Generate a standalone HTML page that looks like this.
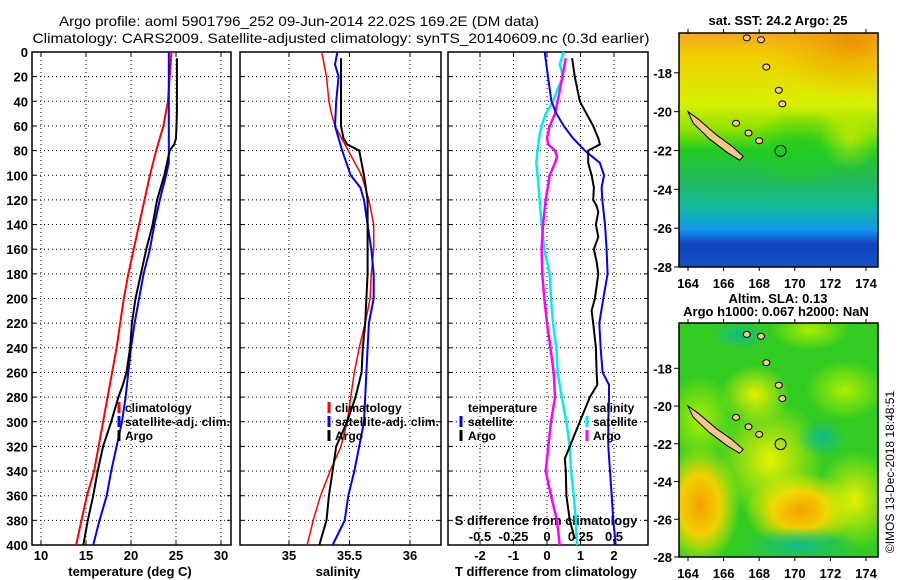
<!DOCTYPE html>
<html><head><meta charset="utf-8"><style>
html,body{margin:0;padding:0;background:#fff;}
svg{display:block;font-family:"Liberation Sans",sans-serif;}
.t{font-weight:bold;font-size:13px;}
.lg{font-weight:bold;font-size:12px;}
</style></head><body>
<svg id="chart" width="900" height="580" viewBox="0 0 900 580" xmlns="http://www.w3.org/2000/svg">
<defs>
<linearGradient id="sstGrad" x1="0" y1="0" x2="0" y2="1">
<stop offset="0" stop-color="#f5a623"/><stop offset="0.1" stop-color="#f0d000"/><stop offset="0.3" stop-color="#d8f000"/><stop offset="0.42" stop-color="#88e000"/><stop offset="0.5" stop-color="#22cc22"/><stop offset="0.62" stop-color="#22bb55"/><stop offset="0.74" stop-color="#11bb99"/><stop offset="0.84" stop-color="#1199ee"/><stop offset="0.9" stop-color="#1144bb"/><stop offset="1" stop-color="#1150c8"/>
</linearGradient>
<radialGradient id="orgSide"><stop offset="0" stop-color="#e88a00" stop-opacity="0.8"/><stop offset="1" stop-color="#f0b000" stop-opacity="0"/></radialGradient>
<radialGradient id="yel"><stop offset="0" stop-color="#e8f000"/><stop offset="1" stop-color="#e8f000" stop-opacity="0"/></radialGradient>
<radialGradient id="lyel"><stop offset="0" stop-color="#aaee00"/><stop offset="1" stop-color="#aaee00" stop-opacity="0"/></radialGradient>
<radialGradient id="org"><stop offset="0" stop-color="#f5a000"/><stop offset="0.5" stop-color="#f0d000"/><stop offset="1" stop-color="#e8f000" stop-opacity="0"/></radialGradient>
<radialGradient id="tea"><stop offset="0" stop-color="#11bb88"/><stop offset="1" stop-color="#11bb88" stop-opacity="0"/></radialGradient>
<radialGradient id="grn"><stop offset="0" stop-color="#22cc22"/><stop offset="1" stop-color="#22cc22" stop-opacity="0"/></radialGradient>
<clipPath id="m1"><rect x="679" y="33" width="199" height="234"/></clipPath>
<clipPath id="m2"><rect x="679" y="323" width="199" height="234"/></clipPath>
</defs>
<text x="299" y="26" font-size="14" text-anchor="middle" textLength="480" lengthAdjust="spacingAndGlyphs">Argo profile: aoml 5901796_252 09-Jun-2014 22.02S 169.2E (DM data)</text>
<text x="341" y="43" font-size="14" text-anchor="middle" textLength="617" lengthAdjust="spacingAndGlyphs">Climatology: CARS2009. Satellite-adjusted climatology: synTS_20140609.nc (0.3d earlier)</text>
<g id="plots"></g>
<g id="maps">
<g clip-path="url(#m1)">
<rect x="679" y="33" width="199" height="234" fill="url(#sstGrad)"/>
<ellipse cx="850" cy="40" rx="90" ry="60" fill="url(#orgSide)"/>
<ellipse cx="800" cy="150" rx="55" ry="40" fill="url(#grn)"/>
<ellipse cx="850" cy="140" rx="30" ry="30" fill="url(#yel)" opacity="0.6"/>
</g>
<g clip-path="url(#m2)">
<rect x="679" y="323" width="199" height="234" fill="#33cc22"/>
<ellipse cx="700" cy="505" rx="40" ry="60" fill="url(#org)"/>
<ellipse cx="800" cy="510" rx="55" ry="38" fill="url(#org)"/>
<ellipse cx="770" cy="460" rx="55" ry="60" fill="url(#yel)"/>
<ellipse cx="855" cy="500" rx="40" ry="50" fill="url(#yel)"/>
<ellipse cx="845" cy="390" rx="40" ry="30" fill="url(#lyel)"/>
<ellipse cx="755" cy="395" rx="35" ry="30" fill="url(#yel)"/>
<ellipse cx="700" cy="420" rx="35" ry="45" fill="url(#lyel)"/>
<ellipse cx="810" cy="330" rx="40" ry="20" fill="url(#lyel)"/>
<ellipse cx="800" cy="545" rx="60" ry="18" fill="url(#tea)"/>
<ellipse cx="822" cy="438" rx="25" ry="20" fill="url(#tea)"/>
<ellipse cx="740" cy="335" rx="30" ry="14" fill="url(#tea)"/>
</g>
</g>
<g id="mapaxes"></g>
<text x="778" y="25" class="t" font-size="12" text-anchor="middle">sat. SST: 24.2 Argo: 25</text>
<text x="778" y="303" class="t" font-size="12" text-anchor="middle">Altim. SLA: 0.13</text>
<text x="776" y="316" class="t" font-size="12" text-anchor="middle">Argo h1000: 0.067 h2000: NaN</text>
<text transform="translate(894,472) rotate(-90)" font-size="12" text-anchor="middle">©IMOS 13-Dec-2018 18:48:51</text>
</svg>
<script>
// ---- data ----
const tempClimDepth=[0,40,60,80,100,120,140,160,180,200,220,240,260,280,300,320,340,360,380,400];
const tempClim=[24.5,24.1,23.6,22.8,22.1,21.5,20.9,20.3,19.7,19.2,18.8,18.4,17.9,17.4,16.9,16.4,15.9,15.1,14.5,13.9];
const tempSatDepth=[0,80,90,100,120,140,160,180,200,220,240,260,280,300,320,340,360,380,400];
const tempSat=[24.2,24.2,24.2,23.9,23.2,22.6,22.1,21.4,20.9,20.4,20.0,19.7,19.4,19.0,18.4,17.8,17.3,16.5,15.8];
const tempArgoDepth=[5,50,70,75,80,100,120,140,160,180,200,220,240,260,270,280,300,320,340,360,380,400];
const tempArgo=[25.1,25.1,25.0,24.8,24.3,23.7,22.9,22.4,21.7,21.1,20.5,20.1,19.9,19.5,19.1,18.6,17.8,16.9,16.3,15.8,15.2,14.7];
const salClimDepth=[0,20,40,50,60,80,100,120,140,160,180,200,220,240,260,280,300,320,340,360,380,400];
const salClim=[35.27,35.31,35.33,35.35,35.38,35.49,35.60,35.66,35.70,35.70,35.68,35.67,35.63,35.58,35.54,35.51,35.48,35.43,35.34,35.26,35.20,35.15];
const salSatDepth=[0,10,20,40,60,70,80,100,110,120,140,160,180,200,220,240,260,280,300,320,340,360,380,400];
const salSat=[35.40,35.38,35.41,35.39,35.38,35.41,35.44,35.51,35.59,35.62,35.65,35.68,35.70,35.70,35.66,35.65,35.64,35.63,35.62,35.58,35.54,35.49,35.46,35.36];
const salArgoDepth=[5,60,70,75,80,90,100,120,140,160,180,200,220,240,260,280,300,320,340,360,380,400];
const salArgo=[35.43,35.43,35.45,35.48,35.58,35.60,35.62,35.65,35.65,35.65,35.65,35.64,35.63,35.61,35.60,35.55,35.48,35.39,35.36,35.33,35.31,35.25];
const dTSatDepth=[0,20,40,50,60,70,80,90,100,110,120,140,160,180,200,220,240,260,270,280,300,320,340,360,380,400];
const dTSat=[-0.07,0.03,0.13,0.28,0.5,0.78,1.13,1.58,1.7,1.63,1.65,1.73,1.78,1.81,1.68,1.56,1.6,1.66,1.85,1.85,1.83,1.83,1.88,1.93,1.98,2.05];
const dTArgoDepth=[5,20,40,60,70,75,80,90,100,110,120,125,130,140,150,160,170,180,200,210,220,240,260,270,280,300,320,330,340,360,380,395];
const dTArgo=[0.75,0.83,0.98,1.38,1.53,1.58,1.23,1.23,1.33,1.4,1.38,1.48,1.53,1.46,1.53,1.4,1.48,1.53,1.43,1.33,1.38,1.46,1.48,1.5,1.28,0.98,0.68,0.53,0.56,0.58,0.68,0.83];
const dSSatDepth=[0,10,20,30,40,50,60,70,80,90,100,120,140,160,180,200,220,240,260,280,300,320,340,360,380,400];
const dSSat=[0.125,0.095,0.12,0.08,0.045,-0.01,-0.04,-0.06,-0.07,-0.08,-0.07,-0.055,-0.04,-0.02,0.02,0.03,0.045,0.07,0.08,0.11,0.145,0.17,0.18,0.2,0.215,0.225];
const dSArgoDepth=[5,20,40,50,60,70,75,80,85,90,100,120,140,160,180,200,220,240,260,280,300,320,340,360,380,400];
const dSArgo=[0.14,0.115,0.08,0.06,0.02,0,0.01,0.06,0.075,0.06,0.02,-0.01,-0.03,-0.04,-0.035,-0.02,0,0.025,0.05,0.06,0.03,0.01,-0.01,0.03,0.075,0.095];
const depthTicks=[0,20,40,60,80,100,120,140,160,180,200,220,240,260,280,300,320,340,360,380,400];
const tempTicks=[10,15,20,25,30];
const salTicks=[35,35.5,36];
const salTickLabels=["35","35.5","36"];
const dTTicks=[-2,-1,0,1,2];
const dSTicks=[-0.5,-0.25,0,0.25,0.5];
const dSTickLabels=["-0.5","-0.25","0","0.25","0.5"];
const latTicks=[-18,-20,-22,-24,-26,-28];
const lonTicks=[164,166,168,170,172,174];

const NS="http://www.w3.org/2000/svg";
const root=document.getElementById('plots');
function mk(tag,attrs,parent){const e=document.createElementNS(NS,tag);for(const k in attrs)e.setAttribute(k,attrs[k]);(parent||root).appendChild(e);return e;}
const Y0=52,Y1=545;
function yD(d){return Y0+(Y1-Y0)*d/400;}
function lin(d0,d1,p0,p1){return v=>p0+(v-d0)*(p1-p0)/(d1-d0);}
const xT=lin(10,30,41,221);
const xS=lin(35,36,289,410);
const xDT=lin(0,2,547,614);
const xDS=v=>xDT(v*4);

function panel(name,x0,x1,xs,ticks,labels){
  const g=mk('g',{});
  
  
  depthTicks.forEach(d=>{if(d>0&&d<400){const l=mk('line',{x1:x0,x2:x1,y1:yD(d),y2:yD(d),stroke:'#000','stroke-width':1,'stroke-dasharray':'1,3'},g);
    
    mk('line',{x1:x0,x2:x0+4,y1:yD(d),y2:yD(d),stroke:'#000'},g);mk('line',{x1:x1-4,x2:x1,y1:yD(d),y2:yD(d),stroke:'#000'},g);}});
  ticks.forEach((t,i)=>{const x=xs(t);
    const l=mk('line',{x1:x,x2:x,y1:Y0,y2:Y1,stroke:'#000','stroke-width':1,'stroke-dasharray':'1,3'},g);
    
    mk('line',{x1:x,x2:x,y1:Y1-4,y2:Y1,stroke:'#000'},g);mk('line',{x1:x,x2:x,y1:Y0,y2:Y0+4,stroke:'#000'},g);
    if(labels){const tx=mk('text',{x:x,y:560,'text-anchor':'middle',class:'t'},g);tx.textContent=labels[i];
      }
  });
  const r=mk('rect',{x:x0,y:Y0,width:x1-x0,height:Y1-Y0,fill:'none',stroke:'#000','stroke-width':1.5},g);
  
  return g;
}
function series(g,name,depths,vals,xs,color,w){
  const pts=depths.map((d,i)=>xs(vals[i]).toFixed(1)+','+yD(d).toFixed(1)).join(' ');
  const p=mk('polyline',{points:pts,fill:'none',stroke:color,'stroke-width':w},g);
  
  
}
function txt(g,name,x,y,s,anchor,cls){const t=mk('text',{x:x,y:y,class:cls||'t','text-anchor':anchor||'start'},g);t.textContent=s;
  return t;}
function mark(g,x,y,c){const l=mk('line',{x1:x,x2:x,y1:y-11,y2:y,stroke:c,'stroke-width':3},g);
  }

depthTicks.forEach(d=>{const t=mk('text',{x:28,y:yD(d)+5,'text-anchor':'end',class:'t'});t.textContent=d;
  });

// panel 1
const g1=panel('temperature-panel',32,231,xT,tempTicks,tempTicks.map(String));
series(g1,'temp-climatology-line',tempClimDepth,tempClim,xT,'#ff0000',2);
series(g1,'temp-satellite-line',tempSatDepth,tempSat,xT,'#0000ff',2);
series(g1,'temp-argo-line',tempArgoDepth,tempArgo,xT,'#000',2);
txt(g1,'temperature-axis-title',130,576,'temperature (deg C)','middle');
const lg1=mk('g',{},g1);
mark(lg1,119,413,'#ff0000');txt(lg1,'legend-entry',125,412,'climatology','start','lg');
mark(lg1,119,427,'#0000ff');txt(lg1,'legend-entry',125,426,'satellite-adj. clim.','start','lg').setAttribute('textLength','105');
mark(lg1,119,441,'#000');txt(lg1,'legend-entry',125,440,'Argo','start','lg');

// panel 2
const g2=panel('salinity-panel',240,441,xS,salTicks,salTickLabels);
series(g2,'sal-climatology-line',salClimDepth,salClim,xS,'#ff0000',1.5);
series(g2,'sal-satellite-line',salSatDepth,salSat,xS,'#0000ff',2);
series(g2,'sal-argo-line',salArgoDepth,salArgo,xS,'#000',2);
txt(g2,'salinity-axis-title',338,576,'salinity','middle');
const lg2=mk('g',{},g2);
mark(lg2,329,413,'#ff0000');txt(lg2,'legend-entry',335,412,'climatology','start','lg');
mark(lg2,329,427,'#0000ff');txt(lg2,'legend-entry',335,426,'satellite-adj. clim.','start','lg').setAttribute('textLength','104');
mark(lg2,329,441,'#000');txt(lg2,'legend-entry',335,440,'Argo','start','lg');

// panel 3
const g3=panel('difference-panel',448,648,xDT,dTTicks,dTTicks.map(String));
dSTicks.forEach((t,i)=>{txt(g3,'s-tick-label',xDS(t),541,dSTickLabels[i],'middle');});
txt(g3,'s-difference-axis-title',546,525,'S difference from climatology','middle');
txt(g3,'t-difference-axis-title',546,576,'T difference from climatology','middle');
series(g3,'dS-satellite-line',dSSatDepth,dSSat,xDS,'#00eeee',2.5);
series(g3,'dS-argo-line',dSArgoDepth,dSArgo,xDS,'#ff00ff',2.5);
series(g3,'dT-satellite-line',dTSatDepth,dTSat,xDT,'#0000ff',2);
series(g3,'dT-argo-line',dTArgoDepth,dTArgo,xDT,'#000',2);
const lg3=mk('g',{},g3);
txt(lg3,'legend-heading',468,412,'temperature','start','lg');
mark(lg3,461,427,'#0000ff');txt(lg3,'legend-entry',468,426,'satellite','start','lg');
mark(lg3,461,441,'#000');txt(lg3,'legend-entry',468,440,'Argo','start','lg');
txt(lg3,'legend-heading',593,412,'salinity','start','lg');
mark(lg3,587,427,'#00eeee');txt(lg3,'legend-entry',593,426,'satellite','start','lg');
mark(lg3,587,441,'#ff00ff');txt(lg3,'legend-entry',593,440,'Argo','start','lg');

// maps
const ma=document.getElementById('mapaxes');
function mapAxes(name,top,bot,latTop,latBot,lonLabelY,clip){
  const g=mk('g',{},ma);
  const xL=lin(164,174,688,866), yL=lin(latTop,latBot,top,bot);
  const gi=mk('g',{'clip-path':clip},g);
  const isl=[[164,-20],[164.6,-20.4],[165.6,-21.2],[166.5,-21.8],[167.1,-22.3],[166.9,-22.5],[166.2,-22.1],[165.2,-21.4],[164.3,-20.6]];
  const p=mk('polygon',{points:isl.map(a=>xL(a[0])+','+yL(a[1])).join(' '),fill:'#fdc48e',stroke:'#000','stroke-width':1},gi);
  
  [[167.4,-21.1],[168,-21.5],[166.7,-20.6],[169.3,-19.6],[169.1,-18.9],[168.4,-17.7],[167.3,-16.2],[168.1,-16.3]].forEach(a=>{
    const e=mk('ellipse',{cx:xL(a[0]),cy:yL(a[1]),rx:3.5,ry:3,fill:'#fdc48e',stroke:'#000','stroke-width':1},gi);
    });
  const c=mk('circle',{cx:xL(169.2),cy:yL(-22.02),r:5.5,fill:'none',stroke:'#000','stroke-width':1},g);
  
  const fr=mk('rect',{x:679,y:top,width:199,height:bot-top,fill:'none',stroke:'#000','stroke-width':1.5},g);
  
  latTicks.forEach(l=>{const y=yL(l);mk('line',{x1:674,x2:679,y1:y,y2:y,stroke:'#000'},g);
    txt(g,'lat-tick-label',672,y+5,String(l),'end');});
  lonTicks.forEach(l=>{const x=xL(l);mk('line',{x1:x,x2:x,y1:bot,y2:bot+4,stroke:'#000'},g);mk('line',{x1:x,x2:x,y1:top-4,y2:top,stroke:'#000'},g);
    txt(g,'lon-tick-label',x,lonLabelY,String(l),'middle');});
}
mapAxes('sst-map-axes',33,267,-15.95,-28,288,'url(#m1)');
mapAxes('sla-map-axes',323,557,-15.6,-28,578,'url(#m2)');
</script>
</body></html>
